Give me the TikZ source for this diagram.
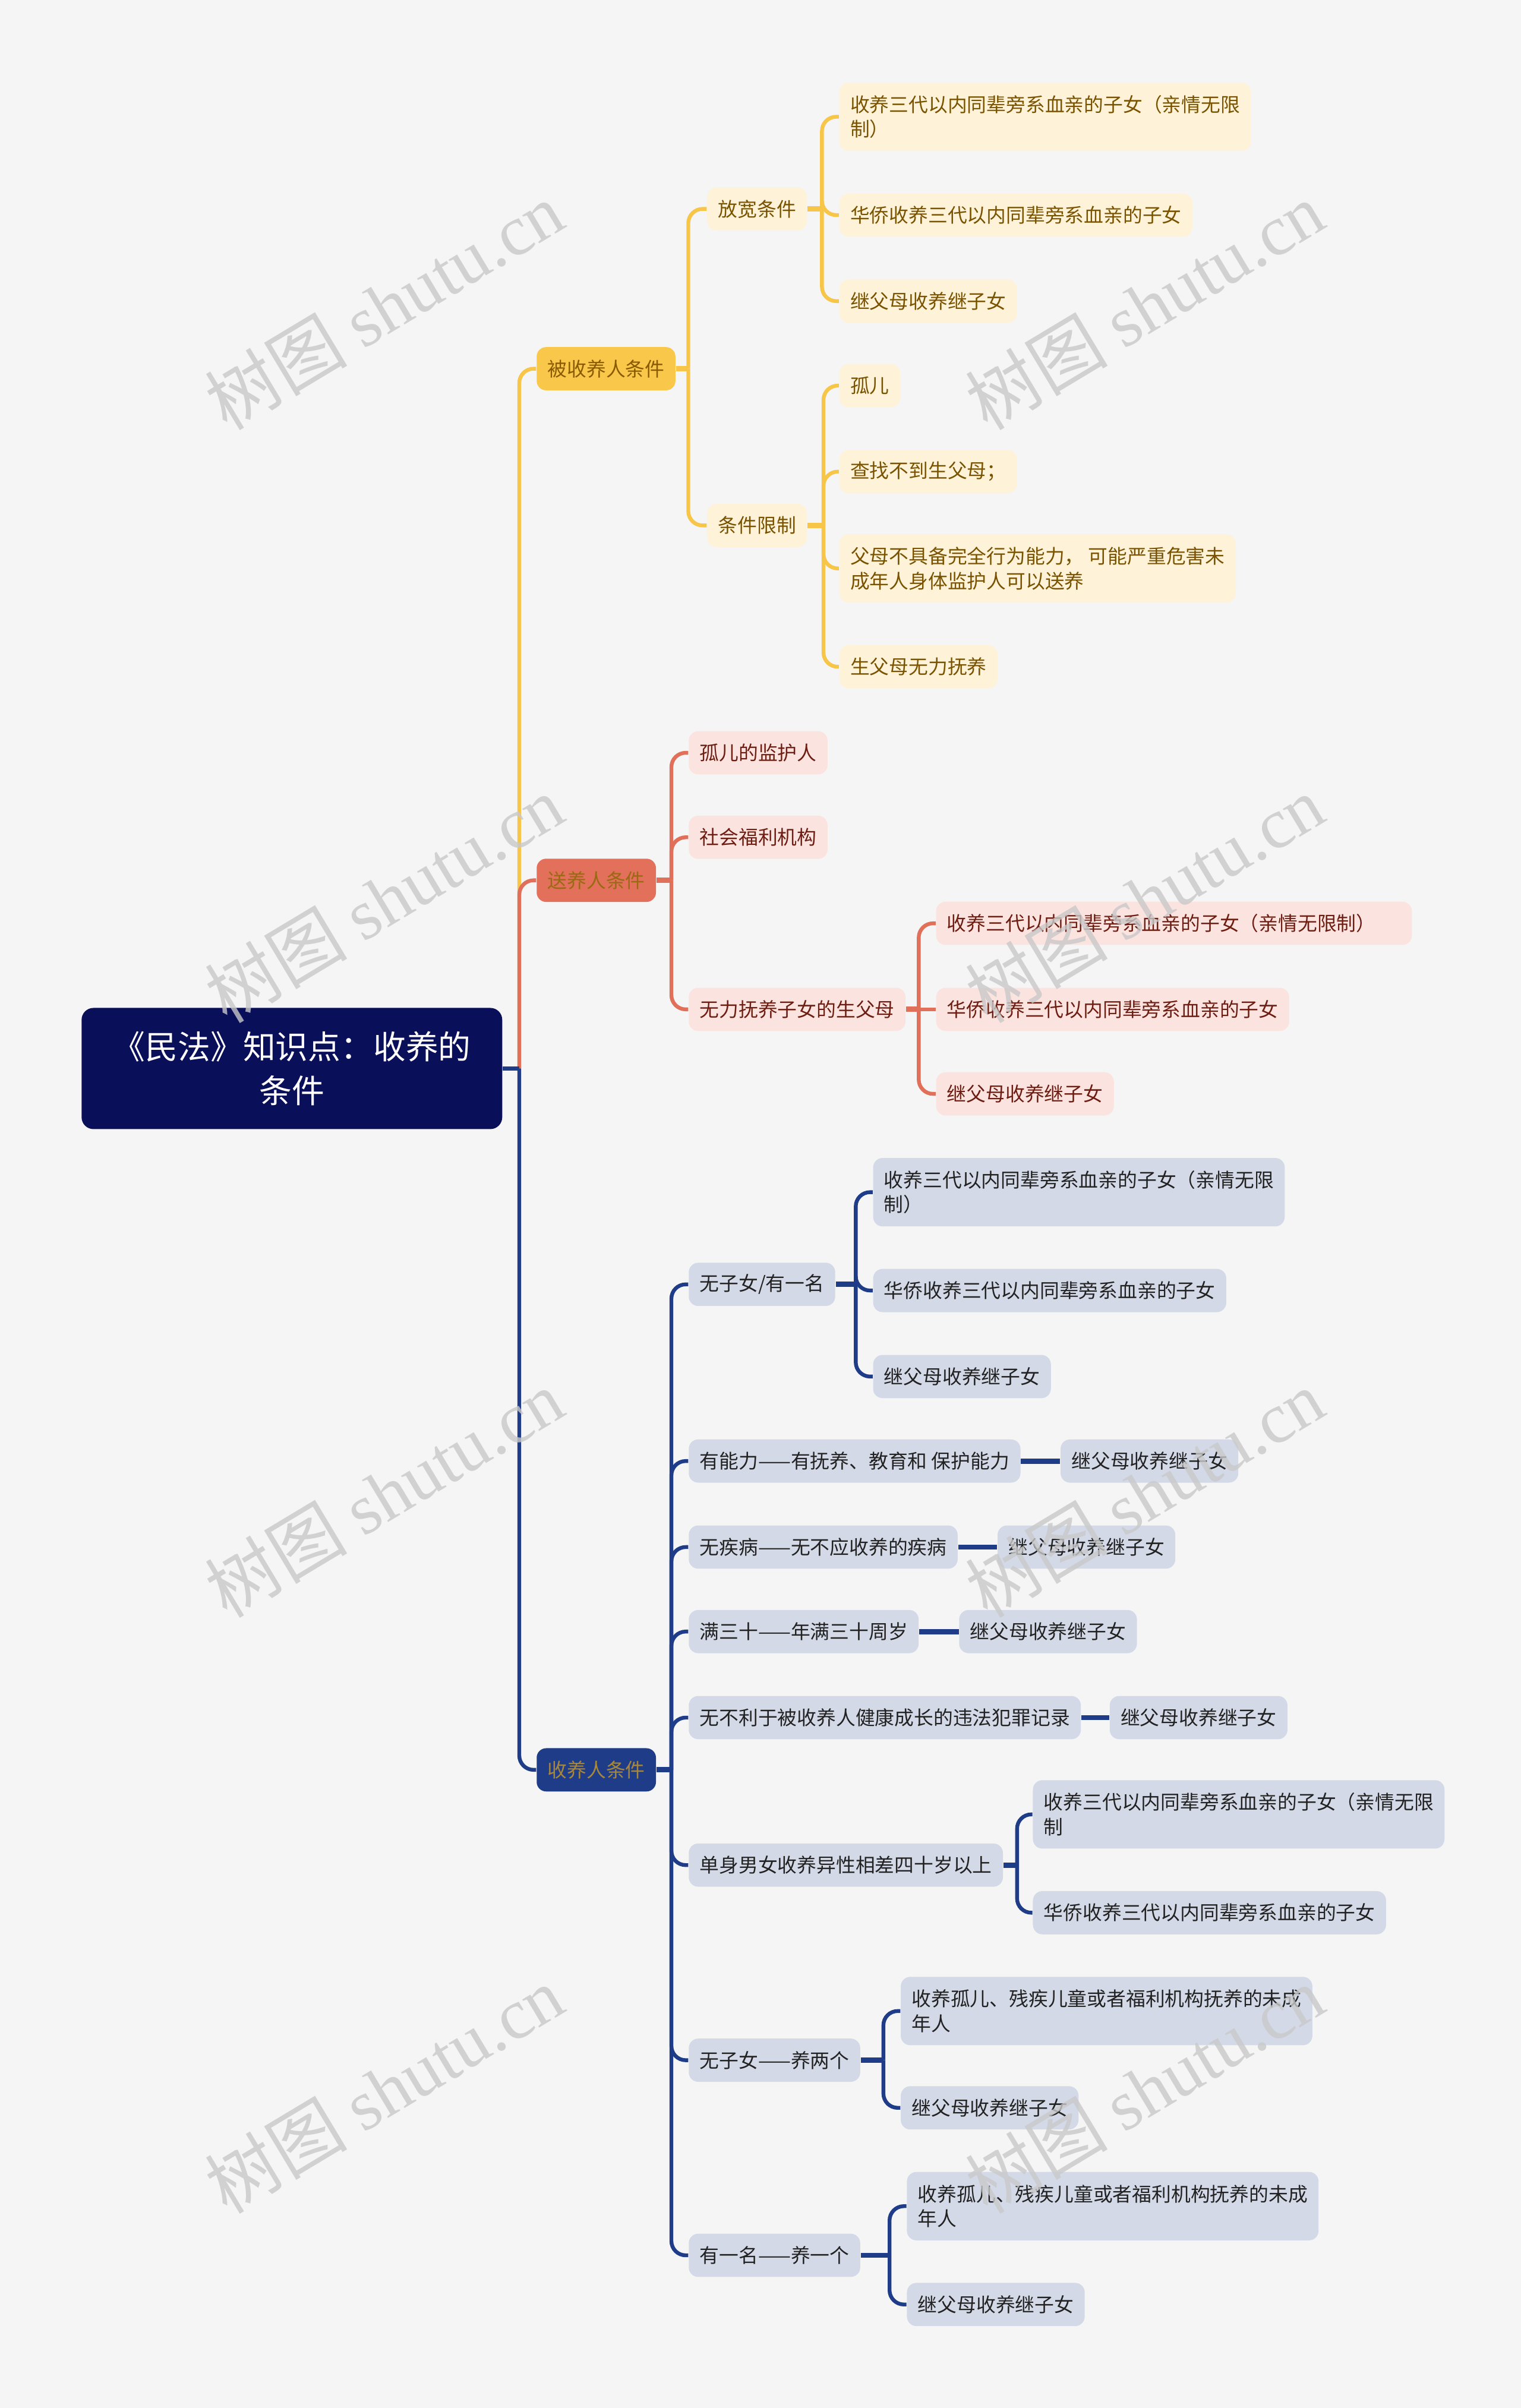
\documentclass[tikz,border=0pt]{standalone}
\usepackage{fontspec}
\setmainfont{Noto Sans CJK SC}
\newfontfamily\wmserif{Liberation Serif}
\newfontfamily\wmcjk{Noto Sans CJK SC}
\pgfdeclarelayer{back}\pgfdeclarelayer{lines}\pgfdeclarelayer{front}
\pgfsetlayers{back,lines,main,front}
\definecolor{bgc}{HTML}{F5F5F5}
\definecolor{rootc}{HTML}{0A0F5A}
\definecolor{yline}{HTML}{F7C548}
\definecolor{yAfill}{HTML}{F9C84B}
\definecolor{yAtext}{HTML}{8A5A00}
\definecolor{yBfill}{HTML}{FEF3D9}
\definecolor{yBtext}{HTML}{7A5300}
\definecolor{rline}{HTML}{E0705A}
\definecolor{rAfill}{HTML}{E2705A}
\definecolor{rAtext}{HTML}{9A6A12}
\definecolor{rBfill}{HTML}{FBE4DF}
\definecolor{rBtext}{HTML}{6E1D12}
\definecolor{bline}{HTML}{1F3C88}
\definecolor{bAfill}{HTML}{1F3C88}
\definecolor{bAtext}{HTML}{A8873A}
\definecolor{bBfill}{HTML}{D3D9E7}
\definecolor{bBtext}{HTML}{222222}
\definecolor{wmc}{HTML}{C9C9C9}
\tikzset{
  box/.style={rounded corners=4pt, inner xsep=4.6pt, inner ysep=2pt, minimum height=18.2pt,
    align=left, anchor=west, font=\fontsize{8.2}{10.4}\selectfont},
  two/.style={minimum height=28.8pt},
  yA/.style={box, fill=yAfill, text=yAtext},
  yB/.style={box, fill=yBfill, text=yBtext},
  rA/.style={box, fill=rAfill, text=rAtext},
  rB/.style={box, fill=rBfill, text=rBtext},
  bA/.style={box, fill=bAfill, text=bAtext},
  bB/.style={box, fill=bBfill, text=bBtext},
  rootbox/.style={fill=rootc, text=white, rounded corners=5pt, minimum width=177pt,
    minimum height=51pt, align=center, font=\fontsize{13.7}{18.3}\selectfont},
  yl/.style={draw=yline, line width=1.6pt},
  rl/.style={draw=rline, line width=1.6pt},
  bl/.style={draw=bline, line width=1.6pt},
  rc/.style={rounded corners=6pt},
  stub/.style={line width=2.2pt},
  wm/.style={rotate=31, text=wmc, text opacity=0.8, font=\fontsize{30}{30}\selectfont}
}
\begin{document}
\begin{tikzpicture}[x=0.64647pt, y=-0.64647pt]
\begin{pgfonlayer}{back}
\fill[bgc] (0,0) rectangle (990,1567.4);
\end{pgfonlayer}
\useasboundingbox (0,0) rectangle (990,1567.4);

% root
\node[rootbox] (root) at (190,695.5) {《民法》知识点：收养的\\条件};

% level 1
\node[yA] (y1) at (349,240) {被收养人条件};
\node[rA] (r1) at (349,573) {送养人条件};
\node[bA] (b0) at (349,1152) {收养人条件};

% yellow subtree
\node[yB] (y11) at (460,136) {放宽条件};
\node[yB] (y12) at (460,342) {条件限制};
\node[yB,two] (y111) at (546,76) {收养三代以内同辈旁系血亲的子女（亲情无限\\制）};
\node[yB] (y112) at (546,140) {华侨收养三代以内同辈旁系血亲的子女};
\node[yB] (y113) at (546,196) {继父母收养继子女};
\node[yB] (y121) at (546,251) {孤儿};
\node[yB] (y122) at (546,307) {查找不到生父母；};
\node[yB,two] (y123) at (546,370) {父母不具备完全行为能力， 可能严重危害未\\成年人身体监护人可以送养};
\node[yB] (y124) at (546,434) {生父母无力抚养};

% red subtree
\node[rB] (r11) at (448,490) {孤儿的监护人};
\node[rB] (r12) at (448,545) {社会福利机构};
\node[rB] (r13) at (448,657) {无力抚养子女的生父母};
\node[rB, text width=191pt] (r131) at (609,601) {收养三代以内同辈旁系血亲的子女（亲情无限制）};
\node[rB] (r132) at (609,657) {华侨收养三代以内同辈旁系血亲的子女};
\node[rB] (r133) at (609,712) {继父母收养继子女};

% blue subtree
\node[bB] (b1) at (448,836) {无子女/有一名};
\node[bB,two] (b11) at (568,776) {收养三代以内同辈旁系血亲的子女（亲情无限\\制）};
\node[bB] (b12) at (568,840) {华侨收养三代以内同辈旁系血亲的子女};
\node[bB] (b13) at (568,896) {继父母收养继子女};
\node[bB] (b2) at (448,951) {有能力——有抚养、教育和 保护能力};
\node[bB] (b21) at (690,951) {继父母收养继子女};
\node[bB] (b3) at (448,1007) {无疾病——无不应收养的疾病};
\node[bB] (b31) at (649,1007) {继父母收养继子女};
\node[bB] (b4) at (448,1062) {满三十——年满三十周岁};
\node[bB] (b41) at (624,1062) {继父母收养继子女};
\node[bB] (b5) at (448,1118) {无不利于被收养人健康成长的违法犯罪记录};
\node[bB] (b51) at (722,1118) {继父母收养继子女};
\node[bB] (b6) at (448,1214) {单身男女收养异性相差四十岁以上};
\node[bB,two] (b61) at (672,1181) {收养三代以内同辈旁系血亲的子女（亲情无限\\制};
\node[bB] (b62) at (672,1245) {华侨收养三代以内同辈旁系血亲的子女};
\node[bB] (b7) at (448,1341) {无子女——养两个};
\node[bB,two] (b71) at (586,1309) {收养孤儿、残疾儿童或者福利机构抚养的未成\\年人};
\node[bB] (b72) at (586,1372) {继父母收养继子女};
\node[bB] (b8) at (448,1468) {有一名——养一个};
\node[bB,two] (b81) at (590,1436) {收养孤儿、残疾儿童或者福利机构抚养的未成\\年人};
\node[bB] (b82) at (590,1500) {继父母收养继子女};

% spine coordinates
\coordinate (tr) at (338,695.5);
\coordinate (sy) at (448,240);
\coordinate (sy1) at (535,136);
\coordinate (sy2) at (536,342);
\coordinate (sr) at (437,573);
\coordinate (sr3) at (598,657);
\coordinate (sb) at (437,1152);
\coordinate (sb1) at (557,836);
\coordinate (sb6) at (662,1214);
\coordinate (sb7) at (575,1341);
\coordinate (sb8) at (579,1468);

\begin{pgfonlayer}{lines}
% trunk
\draw[yl] (root.east) -- (tr);
\draw[yl,rc] (tr) |- (y1.west);
\draw[rl,rc] (tr) |- (r1.west);
\draw[bl,rc] (tr) |- (b0.west);
\draw[bl] (root.east) -- (tr);
% yellow
\draw[yl,stub] (y1.east) -- (sy);
\draw[yl,rc] (sy) |- (y11.west);
\draw[yl,rc] (sy) |- (y12.west);
\draw[yl,stub] (y11.east) -- (sy1);
\draw[yl,rc] (sy1) |- (y111.west);
\draw[yl,rc] (sy1) |- (y112.west);
\draw[yl,rc] (sy1) |- (y113.west);
\draw[yl,stub] (y12.east) -- (sy2);
\draw[yl,rc] (sy2) |- (y121.west);
\draw[yl,rc] (sy2) |- (y122.west);
\draw[yl,rc] (sy2) |- (y123.west);
\draw[yl,rc] (sy2) |- (y124.west);
% red
\draw[rl,stub] (r1.east) -- (sr);
\draw[rl,rc] (sr) |- (r11.west);
\draw[rl,rc] (sr) |- (r12.west);
\draw[rl,rc] (sr) |- (r13.west);
\draw[rl,stub] (r13.east) -- (sr3);
\draw[rl,rc] (sr3) |- (r131.west);
\draw[rl,rc] (sr3) -- (r132.west);
\draw[rl,rc] (sr3) |- (r133.west);
% blue
\draw[bl,stub] (b0.east) -- (sb);
\draw[bl,rc] (sb) |- (b1.west);
\draw[bl,rc] (sb) |- (b2.west);
\draw[bl,rc] (sb) |- (b3.west);
\draw[bl,rc] (sb) |- (b4.west);
\draw[bl,rc] (sb) |- (b5.west);
\draw[bl,rc] (sb) |- (b6.west);
\draw[bl,rc] (sb) |- (b7.west);
\draw[bl,rc] (sb) |- (b8.west);
\draw[bl,stub] (b1.east) -- (sb1);
\draw[bl,rc] (sb1) |- (b11.west);
\draw[bl,rc] (sb1) |- (b12.west);
\draw[bl,rc] (sb1) |- (b13.west);
\draw[bl,stub] (b2.east) -- (b21.west);
\draw[bl,stub] (b3.east) -- (b31.west);
\draw[bl,stub] (b4.east) -- (b41.west);
\draw[bl,stub] (b5.east) -- (b51.west);
\draw[bl,stub] (b6.east) -- (sb6);
\draw[bl,rc] (sb6) |- (b61.west);
\draw[bl,rc] (sb6) |- (b62.west);
\draw[bl,stub] (b7.east) -- (sb7);
\draw[bl,rc] (sb7) |- (b71.west);
\draw[bl,rc] (sb7) |- (b72.west);
\draw[bl,stub] (b8.east) -- (sb8);
\draw[bl,rc] (sb8) |- (b81.west);
\draw[bl,rc] (sb8) |- (b82.west);
\end{pgfonlayer}

% watermarks
\begin{pgfonlayer}{front}
\foreach \wx/\wy [count=\i] in {250/199, 745/199, 250/585, 745/585, 250/972, 745/972, 250/1360, 745/1360}
  \node[wm] (wm\i) at (\wx,\wy) {{\wmcjk 树图} {\wmserif shutu.cn}};
\end{pgfonlayer}
\end{tikzpicture}
\end{document}
